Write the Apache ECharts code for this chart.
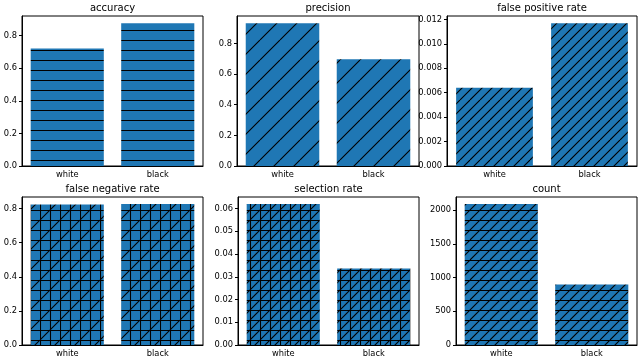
<!DOCTYPE html>
<html>
<head>
<meta charset="utf-8">
<script src="https://cdn.jsdelivr.net/npm/echarts@6/dist/echarts.min.js"></script>
<style>
html,body{margin:0;padding:0;background:#fff;}
#main{width:640px;height:360px;}
</style>
</head>
<body>
<div id="main"></div>
<script>
// data
var categories = ['white', 'black'];
var accuracy = [0.722, 0.877];
var precision = [0.932, 0.697];
var falsePositiveRate = [0.0064, 0.0117];
var falseNegativeRate = [0.824, 0.827];
var selectionRate = [0.062, 0.0336];
var count = [2093, 899];

// tick labels
var ticksRate = ['0.0', '0.2', '0.4', '0.6', '0.8'];
var ticksFpr = ['0.000', '0.002', '0.004', '0.006', '0.008', '0.010', '0.012'];
var ticksSel = ['0.00', '0.01', '0.02', '0.03', '0.04', '0.05', '0.06'];
var ticksCount = ['0', '500', '1000', '1500', '2000'];

var FONT = 'DejaVu Sans';

// hatch fill like matplotlib: h = horizontal spacing, v = vertical, d = diagonal
function hatch(h, v, d) {
	var T = 20;
	var c = document.createElement('canvas');
	c.width = T; c.height = T;
	var g = c.getContext('2d');
	g.fillStyle = '#1f77b4';
	g.fillRect(0, 0, T, T);
	g.strokeStyle = '#000';
	g.lineWidth = 1.1;
	g.beginPath();
	var k;
	if (h) for (k = 0; k < T; k += h) { g.moveTo(0, k + 0.5); g.lineTo(T, k + 0.5); }
	if (v) for (k = 0; k < T; k += v) { g.moveTo(k + 0.5, 0); g.lineTo(k + 0.5, T); }
	if (d) for (k = -T; k <= T; k += d) { g.moveTo(k, T); g.lineTo(k + T, 0); }
	g.stroke();
	return { image: c, repeat: 'repeat' };
}

// one panel per metric
var panels = [
	{ title: 'accuracy', data: accuracy, ticks: ticksRate, fill: hatch(10, 0, 0), left: 22, top: 16, width: 181, height: 150 },
	{ title: 'precision', data: precision, ticks: ticksRate, fill: hatch(0, 0, 20), left: 237, top: 16, width: 182, height: 150 },
	{ title: 'false positive rate', data: falsePositiveRate, ticks: ticksFpr, fill: hatch(0, 0, 10), left: 447, top: 16, width: 190, height: 150 },
	{ title: 'false negative rate', data: falseNegativeRate, ticks: ticksRate, fill: hatch(10, 10, 20), left: 22, top: 197, width: 181, height: 148 },
	{ title: 'selection rate', data: selectionRate, ticks: ticksSel, fill: hatch(10, 10, 10), left: 238, top: 197, width: 181, height: 148 },
	{ title: 'count', data: count, ticks: ticksCount, fill: hatch(10, 0, 10), left: 456, top: 197, width: 181, height: 148 }
];

var option = { animation: false, title: [], grid: [], xAxis: [], yAxis: [], series: [] };

panels.forEach(function (p, i) {
	var vals = p.ticks.map(parseFloat);
	option.title.push({
		text: p.title, left: p.left + p.width / 2, top: p.top - 13, textAlign: 'center', padding: 0,
		textStyle: { fontFamily: FONT, fontSize: 10, fontWeight: 'normal', color: '#000' }
	});
	option.grid.push({
		left: p.left, top: p.top, width: p.width, height: p.height,
		show: true, borderColor: '#000', borderWidth: 1, backgroundColor: 'transparent'
	});
	option.xAxis.push({
		type: 'category', gridIndex: i, data: categories,
		axisLine: { lineStyle: { color: '#000', width: 1 } },
		axisTick: { alignWithLabel: true, length: 3, lineStyle: { color: '#000' } },
		axisLabel: { color: '#000', fontFamily: FONT, fontSize: 8.3, margin: 5 }
	});
	option.yAxis.push({
		type: 'value', gridIndex: i, min: 0, max: Math.max.apply(null, p.data) * 1.05,
		splitLine: { show: false },
		axisLine: { show: true, lineStyle: { color: '#000', width: 1 } },
		axisTick: { show: true, length: 3, customValues: vals, lineStyle: { color: '#000' } },
		axisLabel: {
			color: '#000', fontFamily: FONT, fontSize: 8.3, margin: 5, customValues: vals,
			formatter: function (v) { return p.ticks[vals.indexOf(v)]; }
		}
	});
	option.series.push({
		type: 'bar', xAxisIndex: i, yAxisIndex: i, data: p.data, barWidth: '80.8%',
		itemStyle: { color: p.fill }
	});
});

var chart = echarts.init(document.getElementById('main'), null, { renderer: 'canvas' });
chart.setOption(option);
</script>
</body>
</html>
